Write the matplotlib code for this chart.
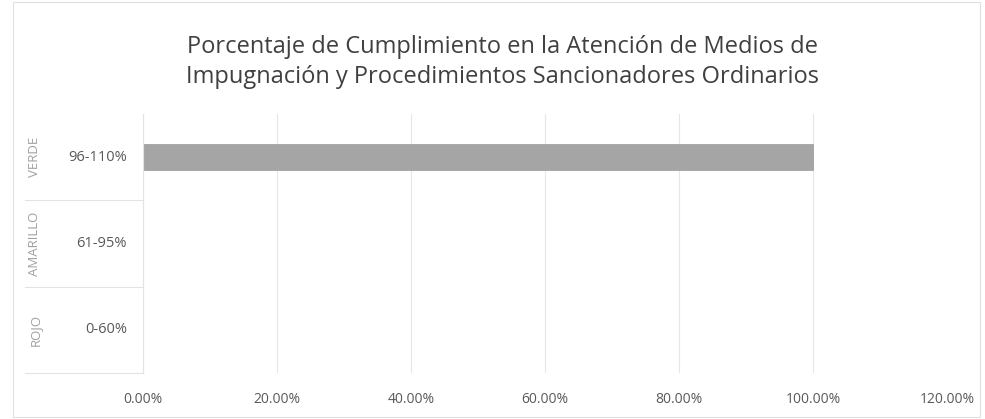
import matplotlib
matplotlib.use("Agg")
import matplotlib.pyplot as plt
from matplotlib.patches import Rectangle
from matplotlib.ticker import FuncFormatter

plt.rcParams['font.family'] = ['Open Sans', 'DejaVu Sans']

title = "Porcentaje de Cumplimiento en la Atención de Medios de\nImpugnación y Procedimientos Sancionadores Ordinarios"
groups = ["ROJO", "AMARILLO", "VERDE"]
ranges = ["0-60%", "61-95%", "96-110%"]
values = [0.0, 0.0, 1.0]
x_ticks = [0.0, 0.2, 0.4, 0.6, 0.8, 1.0, 1.2]

fig = plt.figure(figsize=(9.85, 4.19), dpi=100)
fig.patch.set_facecolor("white")

# chart frame
fig.add_artist(Rectangle((13 / 985, 2 / 419), 967 / 985, 415 / 419, transform=fig.transFigure,
                         fill=False, edgecolor="#e0e0e0", linewidth=0.8))

ax = fig.add_axes([143 / 985, 1 - 373 / 419, (947 - 143) / 985, (373 - 114) / 419])
ypos = list(range(len(ranges)))
ax.barh(ypos, values, height=0.3, color="#a5a5a5", edgecolor="#9a9a9a", linewidth=0.5)
ax.set_xlim(0, 1.2)
ax.set_ylim(-0.5, len(ranges) - 0.5)
ax.set_xticks(x_ticks)
ax.xaxis.set_major_formatter(FuncFormatter(lambda v, p: f"{v * 100:.2f}%"))
ax.tick_params(axis="x", length=0, pad=14, labelsize=10, labelcolor="#595959")
ax.set_yticks(ypos)
ax.set_yticklabels([])
ax.tick_params(axis="y", length=0)
ax.grid(axis="x", color="#e6e6e6", linewidth=0.8)
ax.set_axisbelow(True)
for s in ["top", "right", "bottom"]:
    ax.spines[s].set_visible(False)
ax.spines["left"].set_color("#e3e3e3")
ax.spines["left"].set_linewidth(0.8)

# two-level category labels on the left
trans = ax.get_yaxis_transform()
for i, (g, r) in enumerate(zip(groups, ranges)):
    ax.text(-16 / 804, i, r, transform=trans, ha="right", va="center",
            fontsize=10.5, color="#595959")
    ax.text(-108 / 804, i, g, transform=trans, ha="center", va="center",
            rotation=90, fontsize=9.5, color="#a0a0a0")
for yb in [-0.5, 0.5, 1.5]:
    ax.plot([-118 / 804, 0], [yb, yb], transform=trans, color="#e3e3e3",
            linewidth=0.8, clip_on=False)

fig.text(503 / 985, 1 - 62 / 419, title, ha="center", va="center",
         fontsize=17, color="#404040", linespacing=1.35)

fig.savefig("out.png", dpi=100, facecolor="white")
